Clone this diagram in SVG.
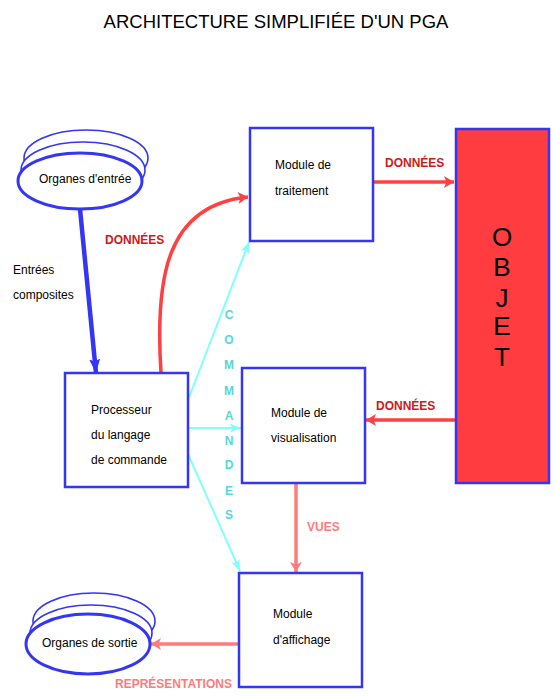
<svg xmlns="http://www.w3.org/2000/svg" width="554" height="697" viewBox="0 0 554 697">
<style>
text{font-family:"Liberation Sans",Arial,sans-serif;fill:#000}
.t{font-size:12px}
.title{font-size:18.5px}
.box{fill:#fff;stroke:#3535f5;stroke-width:2.5}
.ell{fill:#fff;stroke:#3535f5;stroke-width:1.6}
.ellf{fill:#fff;stroke:#3535f5;stroke-width:3}
.lbl{font-size:12px;font-weight:bold;fill:#cc1a1a}
.pk{font-size:12px;font-weight:bold;fill:#ff7b7b}
.cmd{font-size:12px;font-weight:bold;fill:#55d8d8;text-anchor:middle}
.obj{font-size:26px;text-anchor:middle}
.red{fill:none;stroke:#ff4040;stroke-width:3.5}
.pink{fill:none;stroke:#ff7b7b;stroke-width:3.5}
.cyan{fill:none;stroke:#80ffff;stroke-width:2}
.blue{fill:none;stroke:#3535f5;stroke-width:4.5}
</style>
<defs>
<marker id="mRed" markerUnits="userSpaceOnUse" markerWidth="12" markerHeight="12" viewBox="0 0 10 12" refX="10" refY="6" orient="auto"><path d="M0,0 L10,6 L0,12 L2.5,6 z" fill="#ff4040"/></marker>
<marker id="mPink" markerUnits="userSpaceOnUse" markerWidth="12" markerHeight="12" viewBox="0 0 10 12" refX="10" refY="6" orient="auto"><path d="M0,0 L10,6 L0,12 L2.5,6 z" fill="#ff7b7b"/></marker>
<marker id="mCyan" markerUnits="userSpaceOnUse" markerWidth="11" markerHeight="9" viewBox="0 0 11 9" refX="11" refY="4.5" orient="auto"><path d="M0,0 L11,4.5 L0,9 L2.5,4.5 z" fill="#80ffff"/></marker>
<marker id="mBlue" markerUnits="userSpaceOnUse" markerWidth="14" markerHeight="11" viewBox="0 0 14 11" refX="14" refY="5.5" orient="auto"><path d="M0,0 L14,5.5 L0,11 L2.5,5.5 z" fill="#3535f5"/></marker>
</defs>
<text class="title" x="276" y="28" text-anchor="middle">ARCHITECTURE SIMPLIFIÉE D'UN PGA</text>
<g id="connectors">
<path class="blue" d="M80,209 L96,373" marker-end="url(#mBlue)"/>
<path class="red" d="M161,373 C155,280 165,205 248,197" marker-end="url(#mRed)"/>
<path class="red" d="M373,182 L454,182" marker-end="url(#mRed)"/>
<path class="red" d="M456,420 L366,420" marker-end="url(#mRed)"/>
<path class="pink" d="M296,483 L296,572" marker-end="url(#mPink)"/>
<path class="pink" d="M239,644 L151,644" marker-end="url(#mPink)"/>
<path class="cyan" d="M188,400 L249,242" marker-end="url(#mCyan)"/>
<path class="cyan" d="M188,428 L241,428" marker-end="url(#mCyan)"/>
<path class="cyan" d="M188,454 L240,571" marker-end="url(#mCyan)"/>
<text class="lbl" x="105" y="244">DONNÉES</text>
<text class="lbl" x="385" y="167">DONNÉES</text>
<text class="lbl" x="376" y="410">DONNÉES</text>
<text class="pk" x="307" y="531">VUES</text>
<text class="pk" x="115" y="688">REPRÉSENTATIONS</text>
<text class="t" x="13" y="274">Entrées</text>
<text class="t" x="13" y="299">composites</text>
<g id="commandes">
<text class="cmd" x="229" y="319">C</text>
<text class="cmd" x="229" y="344">O</text>
<text class="cmd" x="229" y="369">M</text>
<text class="cmd" x="229" y="395">M</text>
<text class="cmd" x="229" y="420">A</text>
<text class="cmd" x="229" y="445">N</text>
<text class="cmd" x="229" y="469">D</text>
<text class="cmd" x="229" y="495">E</text>
<text class="cmd" x="229" y="519">S</text>
</g>
</g>
<g id="organes-entree">
<ellipse class="ell" cx="86" cy="158" rx="62" ry="28"/>
<ellipse class="ell" cx="83" cy="170" rx="62" ry="28"/>
<ellipse class="ellf" cx="80" cy="181" rx="62" ry="28"/>
<text class="t" x="39" y="183">Organes d'entrée</text>
</g>
<g id="organes-sortie">
<ellipse class="ell" cx="94" cy="621" rx="61" ry="28"/>
<ellipse class="ell" cx="91" cy="633" rx="61" ry="28"/>
<ellipse class="ellf" cx="88" cy="644" rx="62" ry="30"/>
<text class="t" x="42" y="647">Organes de sortie</text>
</g>
<g id="module-traitement">
<rect class="box" x="250" y="128" width="123" height="113"/>
<text class="t" x="275" y="169">Module de</text>
<text class="t" x="275" y="195">traitement</text>
</g>
<g id="objet">
<rect x="456" y="129" width="93" height="354" fill="#ff3c3f" stroke="#3535f5" stroke-width="2.5"/>
<text class="obj" x="502" y="246">O</text>
<text class="obj" x="502" y="276">B</text>
<text class="obj" x="502" y="307">J</text>
<text class="obj" x="502" y="335">E</text>
<text class="obj" x="502" y="366">T</text>
</g>
<g id="processeur">
<rect class="box" x="65" y="373" width="123" height="114"/>
<text class="t" x="91" y="414">Processeur</text>
<text class="t" x="91" y="439">du langage</text>
<text class="t" x="91" y="464">de commande</text>
</g>
<g id="module-visualisation">
<rect class="box" x="242" y="368" width="123" height="115"/>
<text class="t" x="271" y="417">Module de</text>
<text class="t" x="271" y="442">visualisation</text>
</g>
<g id="module-affichage">
<rect class="box" x="239" y="573" width="123" height="114"/>
<text class="t" x="273" y="618">Module</text>
<text class="t" x="273" y="644">d'affichage</text>
</g>
</svg>
